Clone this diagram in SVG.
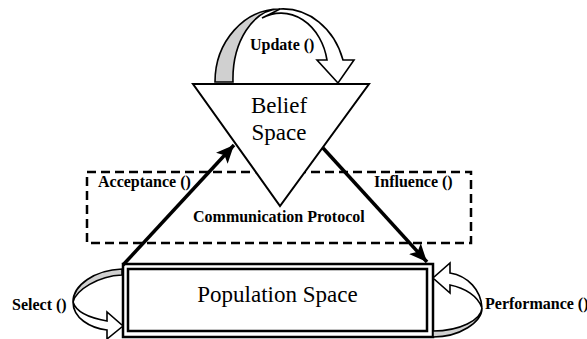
<svg xmlns="http://www.w3.org/2000/svg" width="587" height="339" viewBox="0 0 587 339">
<style>
.lbl{font-family:"Liberation Serif","Times New Roman",serif;font-weight:bold;font-size:16px;fill:#000}
.big{font-family:"Liberation Serif","Times New Roman",serif;font-size:23px;fill:#000;text-anchor:middle}
.shape{stroke:#000;stroke-width:2;stroke-linejoin:miter}
.gray{fill:#d0d0d0;stroke:#000;stroke-width:1.6}
.white{fill:#fff;stroke:#000;stroke-width:1.6}
.conn{stroke:#000;stroke-width:3.5;fill:none}
</style>
<defs>
<marker id="ah" markerUnits="userSpaceOnUse" markerWidth="20" markerHeight="16" refX="18" refY="8" orient="auto">
<path d="M0,0 L18,8 L0,16 L4,8 Z" fill="#000"/>
</marker>
</defs>
<rect width="587" height="339" fill="#fff"/>
<g id="protocol">
<rect x="87" y="172" width="384" height="71" fill="none" stroke="#000" stroke-width="2.5" stroke-dasharray="9,5"/>
<text class="lbl" x="193" y="222">Communication Protocol</text>
</g>
<g id="belief">
<polygon class="shape" points="193,84 369,84 280,206" fill="#fff"/>
<text class="big" x="279" y="113">Belief</text>
<text class="big" x="279" y="140">Space</text>
</g>
<g id="population">
<rect x="123" y="264" width="310" height="73" fill="#fff" stroke="#000" stroke-width="2.5"/>
<rect x="128" y="269" width="299" height="62" fill="none" stroke="#000" stroke-width="2.5"/>
<text class="big" x="277.5" y="302">Population Space</text>
</g>
<g id="update">
<path class="white" d="M280,9 A63,73 0 0 1 343,60 L354,60 L338,83 L317,60 L327,60 A47,58 0 0 0 262,18 Z"/>
<path class="gray" d="M215,82 A65,73 0 0 1 280,9 A47,70 0 0 0 233,82 Z"/>
<text class="lbl" x="250" y="50">Update ()</text>
</g>
<g id="select">
<path class="gray" d="M122,269 C95,270 73,285 73,302 C76,290 98,276 122,275 Z"/>
<path class="white" d="M73,302 C73,318 90,328 107,330 L107,339 L123,326 L107,312 L107,321 C90,318 76,312 73,302 Z"/>
<text class="lbl" x="12" y="310">Select ()</text>
</g>
<g id="performance">
<path class="white" d="M482,308 C481,290 468,276 450,273 L450,263 L433,278 L450,293 L450,285 C465,288 478,296 482,308 Z"/>
<path class="gray" d="M482,308 C482,322 460,337 433,337 L433,331 C460,331 481,320 482,308 Z"/>
<text class="lbl" x="485" y="309" font-size="14">Performance ()</text>
</g>
<g id="connectors">
<line class="conn" x1="123" y1="265" x2="234" y2="145" marker-end="url(#ah)"/>
<line class="conn" x1="323" y1="148" x2="427" y2="262" marker-end="url(#ah)"/>
<text class="lbl" x="98" y="187">Acceptance ()</text>
<text class="lbl" x="374" y="187">Influence ()</text>
</g>
</svg>
